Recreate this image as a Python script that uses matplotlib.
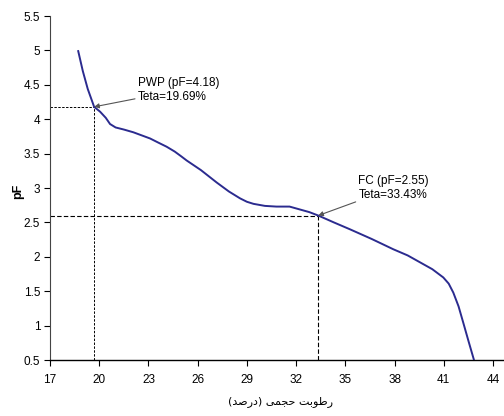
import matplotlib.pyplot as plt
from matplotlib import font_manager

# curve
teta = [18.72, 19.0, 19.3, 19.69, 20.05, 20.4, 20.66, 21.0, 21.5, 22.08, 23.1, 23.6, 24.11, 24.6,
        25.0, 25.33, 26.2, 27.16, 27.9, 28.58, 29.0, 29.4, 30.1, 30.8, 31.6, 32.2, 32.8, 33.35,
        34.3, 35.28, 36.6, 37.92, 38.8, 39.55, 40.3, 40.97, 41.3, 41.58, 41.9, 42.19, 42.5, 42.84]
pf = [4.99, 4.70, 4.44, 4.18, 4.11, 4.02, 3.93, 3.88, 3.85, 3.81, 3.72, 3.66, 3.60, 3.53,
      3.46, 3.40, 3.26, 3.08, 2.95, 2.85, 2.80, 2.77, 2.74, 2.73, 2.73, 2.69, 2.65, 2.60,
      2.50, 2.40, 2.26, 2.11, 2.02, 1.92, 1.82, 1.70, 1.61, 1.48, 1.28, 1.04, 0.78, 0.50]

pwp = (19.69, 4.18)
fc = (33.35, 2.60)
pwp_label = "PWP (pF=4.18)\nTeta=19.69%"
fc_label = "FC (pF=2.55)\nTeta=33.43%"
xticks = [17, 20, 23, 26, 29, 32, 35, 38, 41, 44]
yticks = [0.5, 1, 1.5, 2, 2.5, 3, 3.5, 4, 4.5, 5, 5.5]
xlabel = "رطوبت حجمی (درصد)"


# very small arabic shaper (matplotlib does not join arabic letters)
FORMS = {  # isolated, final, initial, medial
    'ر': ('\uFEAD', '\uFEAE', None, None),
    'د': ('\uFEA9', '\uFEAA', None, None),
    'و': ('\uFEED', '\uFEEE', None, None),
    'ط': ('\uFEC1', '\uFEC2', '\uFEC3', '\uFEC4'),
    'ب': ('\uFE8F', '\uFE90', '\uFE91', '\uFE92'),
    'ت': ('\uFE95', '\uFE96', '\uFE97', '\uFE98'),
    'ح': ('\uFEA1', '\uFEA2', '\uFEA3', '\uFEA4'),
    'ج': ('\uFE9D', '\uFE9E', '\uFE9F', '\uFEA0'),
    'م': ('\uFEE1', '\uFEE2', '\uFEE3', '\uFEE4'),
    'ص': ('\uFEB9', '\uFEBA', '\uFEBB', '\uFEBC'),
    'ی': ('\uFEEF', '\uFEF0', '\uFEF3', '\uFEF4'),
}


def shape(s):
    out = []
    for i, c in enumerate(s):
        if c not in FORMS:
            out.append(c)
            continue
        prev = s[i - 1] if i > 0 else ''
        nxt = s[i + 1] if i + 1 < len(s) else ''
        join_prev = prev in FORMS and FORMS[prev][2] is not None
        join_next = nxt in FORMS and FORMS[c][2] is not None
        iso, fin, ini, med = FORMS[c]
        if join_prev and join_next:
            out.append(med)
        elif join_prev:
            out.append(fin)
        elif join_next:
            out.append(ini)
        else:
            out.append(iso)
    mirror = {'(': ')', ')': '('}
    return ''.join(mirror.get(c, c) for c in reversed(out))


names = {f.name for f in font_manager.fontManager.ttflist}
base = 'Liberation Sans Narrow' if 'Liberation Sans Narrow' in names else 'Liberation Sans'
plt.rcParams['font.family'] = [base, 'DejaVu Sans']

fig = plt.figure(figsize=(5.04, 4.16), dpi=100)
ax = fig.add_axes([0.0992, 0.1346, 0.9008, 0.8269])

ax.plot(teta, pf, color='#2b2b8f', lw=1.4, zorder=3, solid_joinstyle='round')

# guide lines
ax.plot([17, pwp[0]], [pwp[1], pwp[1]], color='black', lw=0.7, ls=(0, (2.5, 1.5)))
ax.plot([pwp[0], pwp[0]], [0.5, pwp[1]], color='black', lw=0.7, ls=(0, (2.5, 1.5)))
ax.plot([17, fc[0]], [fc[1], fc[1]], color='black', lw=0.8, ls=(0, (4, 2)))
ax.plot([fc[0], fc[0]], [0.5, fc[1]], color='black', lw=0.8, ls=(0, (4, 2)))

arrow = dict(arrowstyle='-|>', color='#555555', lw=0.8, mutation_scale=7, shrinkA=0, shrinkB=0)
ax.annotate(pwp_label, xy=pwp, xytext=(22.35, 4.42), fontsize=8.5, va='center',
            multialignment='left', linespacing=1.25, arrowprops=arrow)
ax.annotate(fc_label, xy=fc, xytext=(35.8, 3.0), fontsize=8.5, va='center',
            multialignment='left', linespacing=1.25, arrowprops=arrow)

ax.set_xlim(17, 44.67)
ax.set_ylim(0.5, 5.5)
ax.set_xticks(xticks)
ax.set_yticks(yticks)
ax.set_yticklabels([f'{v:g}' for v in yticks])
ax.tick_params(labelsize=8.5, length=4, width=0.8, pad=6)
ax.tick_params(axis='y', pad=3)
for s in ['top', 'right']:
    ax.spines[s].set_visible(False)
ax.spines['left'].set_linewidth(0.8)
ax.spines['left'].set_color('#444444')
ax.spines['bottom'].set_linewidth(1.0)

ax.set_ylabel('pF', fontsize=9, fontweight='bold')
ax.yaxis.set_label_coords(-0.057, 0.49)
ax.set_xlabel(shape(xlabel), fontsize=8, family=['DejaVu Sans'])
ax.xaxis.set_label_coords(0.507, -0.105)

fig.savefig('out.png', dpi=100)
